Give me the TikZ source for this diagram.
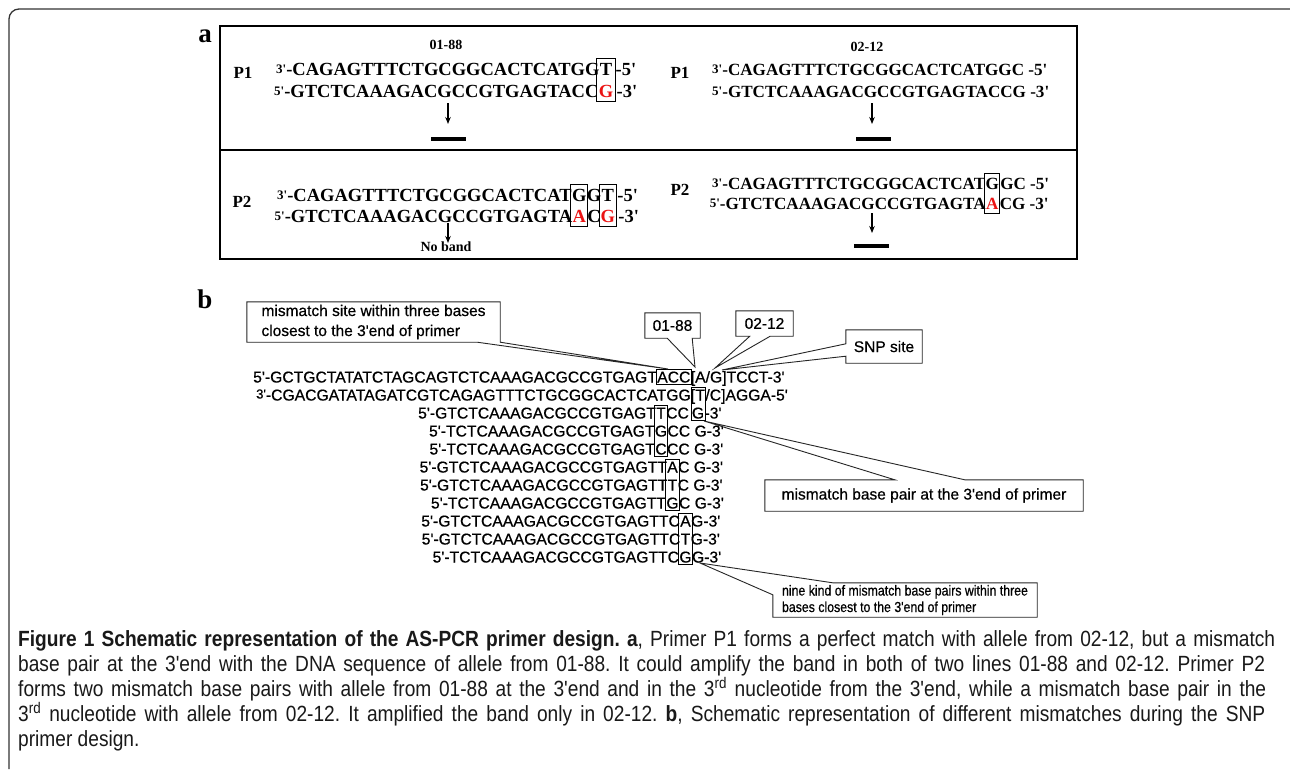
\documentclass[tikz,border=0pt]{standalone}
\usepackage{fontspec}
\setmainfont{Liberation Serif}[Ligatures=TeXOff]
\newfontfamily\arialf{Liberation Sans}[Ligatures=TeXOff,FakeBold=0.6]
\newfontfamily\narf{Liberation Sans}[Ligatures=TeXOff,FakeStretch=0.85,FakeBold=0.6]
\newfontfamily\capf{Liberation Sans}[FakeStretch=0.87]
\usetikzlibrary{arrows.meta,fit,calc}
\definecolor{snpred}{RGB}{235,20,20}
\newcommand\pre[1]{\raisebox{2pt}{\fontsize{13}{13}\selectfont #1}}
\newcommand\bline[6]{%
  \node[seqB, anchor=base] (#1x) at (#3,#2) {#5};
  \node[seqB, anchor=base east] (#1p) at (#1x.base west) {#4};
  \node[seqB, anchor=base west] (#1s) at (#1x.base east) {#6};}
\tikzset{
  seqA/.style={font=\bfseries\fontsize{18.5}{20}\selectfont, inner sep=0, anchor=base west},
  seqAr/.style={font=\bfseries\fontsize{17.1}{20}\selectfont, inner sep=0, anchor=base west},
  lblA/.style={font=\bfseries\fontsize{17}{20}\selectfont, inner sep=0},
  strain/.style={font=\bfseries\fontsize{14}{16}\selectfont, inner sep=0},
  boxA/.style={draw, line width=0.9pt, inner xsep=2.5pt, inner ysep=4.5pt},
  boxAr/.style={draw, line width=0.9pt, inner xsep=0.8pt, inner ysep=4pt},
  arr/.style={-{Stealth[length=7pt,width=5.5pt]}, line width=1.4pt},
  band/.style={fill=black, inner sep=0, minimum width=35pt, minimum height=4pt},
  panel/.style={font=\bfseries\fontsize{27}{30}\selectfont, inner sep=0, anchor=base},
  seqB/.style={font=\arialf\fontsize{15.7}{17}\selectfont, inner sep=0},
  boxB/.style={draw, line width=0.8pt, inner xsep=0.6pt, inner ysep=2pt},
  cb/.style={font=\arialf\fontsize{15.5}{20}\selectfont, inner sep=0},
  cl/.style={draw=black!85, line width=0.9pt},
  capline/.style={font=\capf\fontsize{22}{24}\selectfont\frenchspacing, inner sep=0, anchor=base west, text=black!90}
}
\begin{document}
\begin{tikzpicture}[x=1pt,y=-1pt]
\useasboundingbox (0,0) rectangle (1290,769);
\fill[white] (0,0) rectangle (1290,769);
% outer frame
\draw[line width=1.3pt, black!80, rounded corners=10pt] (9,769) -- (9,9) -- (1290,9);

% ---------------- panel a ----------------
\node[panel] (pa) at (205,42) {a};
\draw[line width=1.8pt] (220,26) rectangle (1077,259);
\draw[line width=1.8pt] (220,150) -- (1077,150);

\node[strain] (s1) at (446,45) {01-88};
\node[strain] (s2) at (867,47) {02-12};
\node[lblA] (p1l) at (243,73) {P1};
\node[lblA] (p1r) at (680,73) {P1};
\node[lblA] (p2l) at (242,202) {P2};
\node[lblA] (p2r) at (680,190) {P2};

% top-left
\coordinate (yA2) at (0,97);
\node[seqA] (tl1p) at (276,75) {\pre{3'}-CAGAGTTTCTGCGGCACTCATGG};
\node[seqA] (tl1x) at (tl1p.base east) {T};
\node[seqA] (tl1s) at ([xshift=3pt]tl1x.base east) {-5'};
\node[seqA, anchor=base, text=snpred] (tl2x) at (tl1x.base |- yA2) {G};
\node[seqA, anchor=base east] (tl2p) at (tl2x.base west) {\pre{5'}-GTCTCAAAGACGCCGTGAGTACC};
\node[seqA] (tl2s) at ([xshift=3pt]tl2x.base east) {-3'};
\node[boxA, fit=(tl1x)(tl2x)] (tlbox) {};

% top-right
\node[seqAr] (tr1) at (712,75) {\pre{3'}-CAGAGTTTCTGCGGCACTCATGGC -5'};
\node[seqAr] (tr2) at (712,97) {\pre{5'}-GTCTCAAAGACGCCGTGAGTACCG -3'};

% bottom-left
\coordinate (yB2) at (0,222);
\node[seqA] (bl1p) at (277,201) {\pre{3'}-CAGAGTTTCTGCGGCACTCAT};
\node[seqA] (bl1x) at (bl1p.base east) {G};
\node[seqA] (bl1m) at (bl1x.base east) {G};
\node[seqA] (bl1y) at (bl1m.base east) {T};
\node[seqA] (bl1s) at ([xshift=3pt]bl1y.base east) {-5'};
\node[seqA, anchor=base, text=snpred] (bl2x) at (bl1x.base |- yB2) {A};
\node[seqA, anchor=base east] (bl2p) at (bl2x.base west) {\pre{5'}-GTCTCAAAGACGCCGTGAGTA};
\node[seqA, anchor=base] (bl2m) at (bl1m.base |- yB2) {C};
\node[seqA, anchor=base, text=snpred] (bl2y) at (bl1y.base |- yB2) {G};
\node[seqA] (bl2s) at ([xshift=3pt]bl2y.base east) {-3'};
\node[boxA, fit=(bl1x)(bl2x), inner xsep=1pt] (blbox1) {};
\node[boxA, fit=(bl1y)(bl2y), inner xsep=1pt] (blbox2) {};

% bottom-right
\coordinate (yC2) at (0,209);
\node[seqAr] (br1p) at (712,189) {\pre{3'}-CAGAGTTTCTGCGGCACTCAT};
\node[seqAr] (br1x) at (br1p.base east) {G};
\node[seqAr] (br1s) at ([xshift=1pt]br1x.base east) {GC -5'};
\node[seqAr, anchor=base, text=snpred] (br2x) at (br1x.base |- yC2) {A};
\node[seqAr, anchor=base east] (br2p) at (br2x.base west) {\pre{5'}-GTCTCAAAGACGCCGTGAGTA};
\node[seqAr] (br2s) at ([xshift=1pt]br2x.base east) {CG -3'};
\node[boxAr, fit=(br1x)(br2x)] (brbox) {};

% arrows and bands
\coordinate (a1s) at (448,103); \coordinate (a1e) at (448,124);
\coordinate (a2s) at (872,103); \coordinate (a2e) at (872,124);
\coordinate (a3s) at (448,223); \coordinate (a3e) at (448,243);
\coordinate (a4s) at (872,213); \coordinate (a4e) at (872,233);
\draw[arr] (a1s) -- (a1e);
\draw[arr] (a2s) -- (a2e);
\draw[arr] (a3s) -- (a3e);
\draw[arr] (a4s) -- (a4e);
\node[band] (bd1) at (448.5,138.5) {};
\node[band] (bd2) at (873.5,138.5) {};
\node[band] (bd4) at (871.5,246) {};
\node[font=\bfseries\fontsize{14}{16}\selectfont, inner sep=0] (nob) at (446,247) {No band};

% ---------------- panel b ----------------
\node[panel] (pb) at (205,308) {b};

% line 1
\node[seqB, anchor=base west] (b1p) at (253,382.5) {5'-GCTGCTATATCTAGCAGTCTCAAAGACGCCGTGAGT};
\node[seqB, anchor=base west] (b1x) at (b1p.base east) {ACC};
\node[seqB, anchor=base west] (b1s) at (b1x.base east) {[A/G]TCCT-3'};
% line 2
\node[seqB, anchor=base west] (b2p) at (256,400.5) {\pre{3'}-CGACGATATAGATCGTCAGAGTTTCTGCGGCACTCATGG[};
\node[seqB, anchor=base west] (b2x) at (b2p.base east) {T};
\node[seqB, anchor=base west] (b2s) at (b2x.base east) {/C]AGGA-5'};
% line 3
\node[seqB, anchor=base] (b3x) at (661,418.5) {T};
\node[seqB, anchor=base east] (b3p) at (b3x.base west) {5'-GTCTCAAAGACGCCGTGAGT};
\node[seqB, anchor=base west] (b3s) at (b3x.base east) {CC};
\node[seqB, anchor=base] (b3g) at (698,418.5) {G};
\node[seqB, anchor=base west] (b3e) at (b3g.base east) {-3'};
% lines 4-11
\bline{b4}{436.5}{661}{5'-TCTCAAAGACGCCGTGAGT}{G}{CC G-3'}
\bline{b5}{454.5}{661}{5'-TCTCAAAGACGCCGTGAGT}{C}{CC G-3'}
\bline{b6}{472.5}{672.5}{5'-GTCTCAAAGACGCCGTGAGTT}{A}{C G-3'}
\bline{b7}{490.5}{672.5}{5'-GTCTCAAAGACGCCGTGAGTT}{T}{C G-3'}
\bline{b8}{508.5}{672.5}{5'-TCTCAAAGACGCCGTGAGTT}{G}{C G-3'}
\bline{b9}{526.5}{685.5}{5'-GTCTCAAAGACGCCGTGAGTTC}{A}{G-3'}
\bline{b10}{544.5}{685.5}{5'-GTCTCAAAGACGCCGTGAGTTC}{T}{G-3'}
\bline{b11}{562.5}{685.5}{5'-TCTCAAAGACGCCGTGAGTTC}{G}{G-3'}

\node[boxB, fit=(b1x)] (bxACC) {};
\node[boxB, fit=(b2x)(b3g)] (bxTC) {};
\node[boxB, fit=(b3x)(b5x)] (bx1) {};
\node[boxB, fit=(b6x)(b8x)] (bx2) {};
\node[boxB, fit=(b9x)(b11x)] (bx3) {};

% callouts
\coordinate (t1) at (668,369);
\coordinate (t2) at (695,367);
\coordinate (t3) at (715,368);
\coordinate (t4) at (722,370);
\coordinate (t5) at (704,421);
\coordinate (t6) at (700,563);

\node[cb, minimum width=253pt, minimum height=40pt, align=left] (k1) at (373.5,322)
  {mismatch site within three bases\\closest to the 3'end of primer};
\draw[cl] (k1.north west) -- (k1.north east) -- (k1.south east) -- (t1)
  -- ([xshift=-23pt]k1.south east) -- (k1.south west) -- cycle;

\node[cb, minimum width=55pt, minimum height=25pt] (k2) at (672.5,325.5) {01-88};
\draw[cl] (k2.north west) -- (k2.north east) -- (k2.south east) -- ([xshift=-8pt]k2.south east)
  -- (t2) -- ([xshift=-33pt]k2.south east) -- (k2.south west) -- cycle;

\node[cb, minimum width=57pt, minimum height=25pt] (k3) at (764.5,323.5) {02-12};
\draw[cl] (k3.north west) -- (k3.north east) -- (k3.south east) -- ([xshift=-23pt]k3.south east)
  -- (t3) -- ([xshift=14pt]k3.south west) -- (k3.south west) -- cycle;

\node[cb, minimum width=76pt, minimum height=33pt] (k4) at (884,346.5) {SNP site};
\draw[cl] (k4.north west) -- (k4.north east) -- (k4.south east) -- (k4.south west)
  -- ([yshift=7pt]k4.south west) -- (t4) -- ([yshift=-14pt]k4.north west) -- cycle;

\node[cb, minimum width=318pt, minimum height=31pt] (k5) at (924,495.5) {mismatch base pair at the 3'end of primer};
\draw[cl] (k5.north west) -- ([xshift=130pt]k5.north west) -- (t5) -- ([xshift=200pt]k5.north west)
  -- (k5.north east) -- (k5.south east) -- (k5.south west) -- cycle;

\node[cb, minimum width=264pt, minimum height=34pt, align=left,
  font=\narf\fontsize{14.5}{16.5}\selectfont] (k6) at (905,600)
  {nine kind of mismatch base pairs within three\\bases closest to the 3'end of primer};
\draw[cl] ([xshift=60pt]k6.north west) -- (k6.north east) -- (k6.south east) -- (k6.south west)
  -- ([yshift=-12pt]k6.north west) -- (t6) -- cycle;

% ---------------- caption ----------------
\node[capline] (c1) at (18,646) {\makebox[1257pt][s]{\textbf{Figure 1 Schematic representation of the AS-PCR primer design. a}, Primer P1 forms a perfect match with allele from 02-12, but a mismatch}};
\node[capline] (c2) at (18,671) {\makebox[1247pt][s]{base pair at the 3'end with the DNA sequence of allele from 01-88. It could amplify the band in both of two lines 01-88 and 02-12. Primer P2}};
\node[capline] (c3) at (18,696) {\makebox[1248pt][s]{forms two mismatch base pairs with allele from 01-88 at the 3'end and in the 3\textsuperscript{rd} nucleotide from the 3'end, while a mismatch base pair in the}};
\node[capline] (c4) at (18,721) {\makebox[1247pt][s]{3\textsuperscript{rd} nucleotide with allele from 02-12. It amplified the band only in 02-12. \textbf{b}, Schematic representation of different mismatches during the SNP}};
\node[capline] (c5) at (18,746) {primer design.};
\end{tikzpicture}
\end{document}
